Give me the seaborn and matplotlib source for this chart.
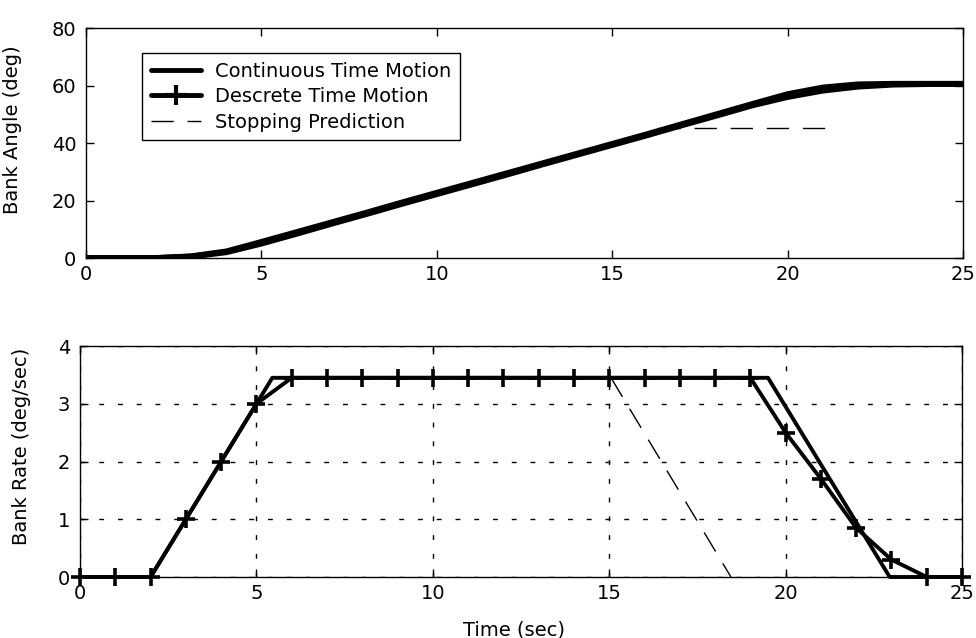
import matplotlib
matplotlib.use("Agg")
import matplotlib.pyplot as plt
import seaborn as sns
from matplotlib.lines import Line2D

sns.set_theme(style="white")
plt.rcParams["font.family"] = ["DejaVu Sans"]
plt.rcParams["axes.edgecolor"] = "black"
plt.rcParams["text.color"] = "black"
plt.rcParams["axes.labelcolor"] = "black"
plt.rcParams["xtick.color"] = "black"
plt.rcParams["ytick.color"] = "black"

# ---- data -------------------------------------------------------------
time_s = [0, 1, 2, 3, 4, 5, 6, 7, 8, 9, 10, 11, 12,
          13, 14, 15, 16, 17, 18, 19, 20, 21, 22, 23, 24, 25]

# bank angle (deg)
angle_continuous = [0, 0, 0, 0.6, 2.3, 5.6, 9.0, 12.4, 15.8, 19.3, 22.7, 26.1, 29.5,
                    32.9, 36.3, 39.7, 43.1, 46.6, 50.1, 53.6, 57.0, 59.3, 60.4, 60.6, 60.6, 60.6]
angle_discrete = [0, 0, 0, 0.5, 2.0, 5.0, 8.4, 11.9, 15.3, 18.8, 22.2, 25.6, 29.0,
                  32.5, 35.9, 39.3, 42.7, 46.2, 49.6, 53.1, 56.0, 58.2, 59.6, 60.3, 60.5, 60.5]
stop_angle_t = [16.3, 21.1]
stop_angle = [45.3, 45.3]

# bank rate (deg/sec)
rate_cont_t = [0, 2.0, 5.45, 19.5, 22.95, 25]
rate_continuous = [0, 0, 3.45, 3.45, 0, 0]
rate_discrete = [0, 0, 0, 1.0, 2.0, 3.0, 3.45, 3.45, 3.45, 3.45, 3.45, 3.45, 3.45,
                 3.45, 3.45, 3.45, 3.45, 3.45, 3.45, 3.45, 2.5, 1.7, 0.85, 0.3, 0, 0]
stop_rate_t = [15.05, 18.45]
stop_rate = [3.45, 0.0]

x_ticks = [0, 5, 10, 15, 20, 25]
angle_ticks = [0, 20, 40, 60, 80]
rate_ticks = [0, 1, 2, 3, 4]

labels = ["Continuous Time Motion", "Descrete Time Motion", "Stopping Prediction"]

# ---- figure -----------------------------------------------------------
fig = plt.figure(figsize=(9.76, 6.38), dpi=100)
ax1 = fig.add_axes([0.0881, 0.5956, 0.8986, 0.3605])
ax2 = fig.add_axes([0.0820, 0.0956, 0.9037, 0.3620])

FS = 14
dash_long = (0, (16, 10))

# top: bank angle
sns.lineplot(x=time_s, y=angle_discrete, ax=ax1, color="black", linewidth=4.2,
             legend=False, solid_capstyle="butt")
sns.lineplot(x=time_s, y=angle_continuous, ax=ax1, color="black", linewidth=4.2,
             legend=False, solid_capstyle="butt")
sns.lineplot(x=stop_angle_t, y=stop_angle, ax=ax1, color="black", linewidth=1.0,
             linestyle=dash_long, legend=False)

ax1.set_xlim(0, 25)
ax1.set_ylim(0, 80)
ax1.set_xticks(x_ticks)
ax1.set_yticks(angle_ticks)
ax1.set_ylabel("Bank Angle (deg)", fontsize=FS)
ax1.yaxis.set_label_coords(-0.073, 0.556)

# bottom: bank rate
sns.lineplot(x=time_s, y=rate_discrete, ax=ax2, color="black", linewidth=2.8,
             marker="+", markersize=13, markeredgewidth=2.6, markeredgecolor="black",
             legend=False, clip_on=False)
sns.lineplot(x=rate_cont_t, y=rate_continuous, ax=ax2, color="black", linewidth=2.8,
             legend=False, clip_on=False)
sns.lineplot(x=stop_rate_t, y=stop_rate, ax=ax2, color="black", linewidth=1.0,
             linestyle=dash_long, legend=False)

ax2.set_xlim(0, 25)
ax2.set_ylim(0, 4)
ax2.set_xticks(x_ticks)
ax2.set_yticks(rate_ticks)
ax2.grid(True, color="black", linewidth=1.0, linestyle=(0, (3.5, 10)))
ax2.set_axisbelow(True)
ax2.set_ylabel("Bank Rate (deg/sec)", fontsize=FS)
ax2.yaxis.set_label_coords(-0.0556, 0.565)
ax2.set_xlabel("Time (sec)", fontsize=FS)
ax2.xaxis.set_label_coords(0.492, -0.19)

for ax in (ax1, ax2):
    ax.set_facecolor("white")
    for sp in ax.spines.values():
        sp.set_visible(True)
        sp.set_color("black")
        sp.set_linewidth(1.0)
    ax.tick_params(axis="both", which="both", direction="in", length=6, width=1.0,
                   top=True, right=True, bottom=True, left=True, labelsize=FS)
    ax.tick_params(axis="x", pad=5)
    ax.tick_params(axis="y", pad=7)

handles = [
    Line2D([], [], color="black", linewidth=3.5),
    Line2D([], [], color="black", linewidth=3.5, marker="+", markersize=15,
           markeredgewidth=3.0),
    Line2D([], [], color="black", linewidth=1.0, linestyle=dash_long),
]
leg = ax1.legend(handles, labels, loc="upper left", bbox_to_anchor=(0.1455, 0.917),
                 bbox_transform=fig.transFigure, borderaxespad=0, fontsize=FS,
                 frameon=True, fancybox=False, shadow=False, framealpha=1,
                 handlelength=2.6, handletextpad=0.7, borderpad=0.45,
                 labelspacing=0.33)
leg.get_frame().set_edgecolor("black")
leg.get_frame().set_linewidth(1.0)

fig.savefig("out.png", dpi=100, facecolor="white")
